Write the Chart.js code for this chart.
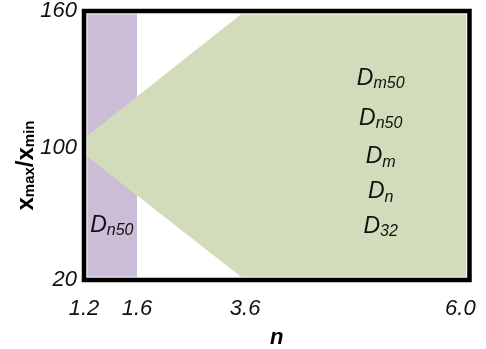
<!DOCTYPE html>
<html>
<head>
<meta charset="utf-8">
<script src="https://cdn.jsdelivr.net/npm/chart.js@4/dist/chart.umd.min.js"></script>
<style>
  html, body { margin: 0; padding: 0; background: #fff; }
  #wrap { width: 486px; height: 349px; position: relative; }
</style>
</head>
<body>
<div id="wrap"><canvas id="c"></canvas></div>
<script>
// ---- data ----
const xTicks = [1.2, 1.6, 3.6, 6.0];
const xTickLabels = ['1.2', '1.6', '3.6', '6.0'];
const yTicks = [20, 100, 160];
const yTickLabels = ['20', '100', '160'];

// purple band: n from 1.2 to 1.6, full range of x_max/x_min
const bandN = [1.2, 1.6];
const bandTop = [160, 160];

// green region: upper and lower boundary
const greenN = [1.2, 3.6, 6.0];
const greenUpper = [104, 160, 160];
const greenLower = [96, 20, 20];

// annotation labels (main letter, subscript, n, ratio)
const labelMain = ['D', 'D', 'D', 'D', 'D', 'D'];
const labelSub = ['m50', 'n50', 'm', 'n', '32', 'n50'];
const labelN = [5.05, 5.05, 5.05, 5.05, 5.05, 1.41];
const labelR = [127.5, 109.9, 90.6, 69.5, 48.4, 49.0];

// ---- piecewise linear scale (axis ticks are not evenly spaced) ----
const axisFracs = {
  x: [0, 0.1375, 0.418, 1],
  y: [0, 0.4926, 1]
};
const axisBreaks = { x: xTicks, y: yTicks };

class PiecewiseScale extends Chart.LinearScale {
  _frac(value) {
    const b = axisBreaks[this.id], f = axisFracs[this.id];
    let i = 0;
    while (i < b.length - 2 && value > b[i + 1]) i++;
    return f[i] + (value - b[i]) / (b[i + 1] - b[i]) * (f[i + 1] - f[i]);
  }
  getPixelForValue(value) {
    return this.getPixelForDecimal(this._frac(value));
  }
  getValueForPixel(pixel) {
    const d = this.getDecimalForPixel(pixel);
    const b = axisBreaks[this.id], f = axisFracs[this.id];
    let i = 0;
    while (i < f.length - 2 && d > f[i + 1]) i++;
    return b[i] + (d - f[i]) / (f[i + 1] - f[i]) * (b[i + 1] - b[i]);
  }
}
PiecewiseScale.id = 'piecewise';
PiecewiseScale.defaults = {};
Chart.register(PiecewiseScale);

const FONT = "'Liberation Sans', Arial, sans-serif";
const PURPLE = '#cbbdd7';
const GREEN = '#d3dcba';

function pts(xs, ys) { return xs.map((x, i) => ({ x: x, y: ys[i] })); }

function drawSub(ctx, main, sub, cx, by, mainFont, subFont, drop) {
  ctx.font = mainFont;
  const w1 = ctx.measureText(main).width;
  ctx.font = subFont;
  const w2 = ctx.measureText(sub).width;
  let x = cx - (w1 + w2) / 2;
  ctx.textAlign = 'left';
  ctx.textBaseline = 'alphabetic';
  ctx.font = mainFont;
  ctx.fillText(main, x, by);
  ctx.font = subFont;
  ctx.fillText(sub, x + w1, by + drop);
}

const decor = {
  id: 'decor',
  afterDatasetsDraw(chart) {
    const ctx = chart.ctx, xs = chart.scales.x, ys = chart.scales.y;
    const a = chart.chartArea;
    ctx.save();
    ctx.fillStyle = '#111';
    for (let i = 0; i < labelMain.length; i++) {
      drawSub(ctx, labelMain[i], labelSub[i],
        xs.getPixelForValue(labelN[i]), ys.getPixelForValue(labelR[i]),
        'italic 23px ' + FONT, 'italic 16px ' + FONT, 3.5);
    }
    // thin light inner edge
    ctx.strokeStyle = 'rgba(255,255,255,0.85)';
    ctx.lineWidth = 1.2;
    ctx.strokeRect(a.left + 2.8, a.top + 2.8, a.right - a.left - 5.6, a.bottom - a.top - 5.6);
    // frame
    ctx.strokeStyle = '#000';
    ctx.lineWidth = 4.5;
    ctx.strokeRect(a.left, a.top, a.right - a.left, a.bottom - a.top);
    ctx.restore();
  },
  afterDraw(chart) {
    const ctx = chart.ctx, a = chart.chartArea;
    ctx.save();
    ctx.translate(a.left - 51, (a.top + a.bottom) / 2 + 20);
    ctx.rotate(-Math.PI / 2);
    ctx.fillStyle = '#000';
    const mf = 'bold 24px ' + FONT, sf = 'bold 15px ' + FONT;
    const parts = [['x', mf], ['max', sf], ['/x', mf], ['min', sf]];
    let total = 0;
    parts.forEach(p => { ctx.font = p[1]; total += ctx.measureText(p[0]).width; });
    let x = -total / 2;
    ctx.textBaseline = 'alphabetic';
    ctx.textAlign = 'left';
    parts.forEach(p => {
      ctx.font = p[1];
      ctx.fillText(p[0], x, p[1] === sf ? 1 : 0);
      x += ctx.measureText(p[0]).width;
    });
    ctx.restore();
  }
};

new Chart(document.getElementById('c'), {
  type: 'line',
  data: {
    datasets: [
      { data: pts(greenN, greenLower), borderWidth: 0, pointRadius: 0, fill: false, order: 1 },
      { data: pts(greenN, greenUpper), borderWidth: 0, pointRadius: 0, fill: '-1', backgroundColor: GREEN, order: 1 },
      { data: pts(bandN, bandTop), borderWidth: 0, pointRadius: 0, fill: 'start', backgroundColor: PURPLE, order: 2 }
    ]
  },
  options: {
    responsive: true,
    maintainAspectRatio: false,
    animation: false,
    events: [],
    layout: { padding: { left: 10, top: 11, right: 16.5, bottom: 0 } },
    plugins: { legend: { display: false }, tooltip: { enabled: false } },
    scales: {
      x: {
        type: 'piecewise',
        min: 1.2, max: 6.0,
        grid: { display: false, drawTicks: false },
        border: { display: false },
        afterBuildTicks: s => { s.ticks = xTicks.map(v => ({ value: v })); },
        afterFit: s => { s.height = 69; s.paddingLeft = 0; s.paddingRight = 0; },
        ticks: {
          autoSkip: false, maxRotation: 0, padding: 18, color: '#111',
          font: { family: FONT, size: 22, style: 'italic', lineHeight: 1 },
          callback: (v, i) => i === xTickLabels.length - 1 ? xTickLabels[i] + '   ' : xTickLabels[i]
        },
        title: {
          display: true, text: 'n', color: '#000', padding: { top: 8, bottom: 0 },
          font: { family: FONT, size: 22, style: 'italic', weight: 'bold', lineHeight: 1 }
        }
      },
      y: {
        type: 'piecewise',
        min: 20, max: 160,
        grid: { display: false, drawTicks: false },
        border: { display: false },
        afterBuildTicks: s => { s.ticks = yTicks.map(v => ({ value: v })); },
        afterFit: s => { s.width = 74; s.paddingTop = 0; s.paddingBottom = 0; },
        ticks: {
          autoSkip: false, padding: 7, color: '#111',
          font: { family: FONT, size: 22, style: 'italic', lineHeight: 1 },
          callback: (v, i) => yTickLabels[i]
        }
      }
    }
  },
  plugins: [decor]
});
</script>
</body>
</html>
